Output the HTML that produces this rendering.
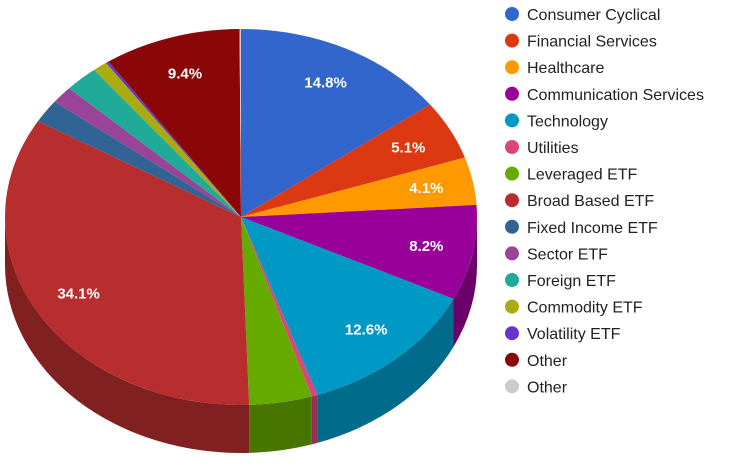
<!DOCTYPE html>
<html><head><meta charset="utf-8"><style>
body{margin:0;background:#fff;width:750px;height:467px;overflow:hidden;font-family:"Liberation Sans",Arial,sans-serif}
svg{position:absolute;left:0;top:0}
</style></head><body>
<svg id="s" width="750" height="467" xmlns="http://www.w3.org/2000/svg"></svg>
<script>
(function(){
var data=[["Consumer Cyclical",14.8,"#3366cc"],["Financial Services",5.1,"#dc3912"],["Healthcare",4.1,"#ff9900"],["Communication Services",8.2,"#990099"],["Technology",12.6,"#0099c6"],["Utilities",0.4,"#dd4477"],["Leveraged ETF",4.3,"#66aa00"],["Broad Based ETF",34.1,"#b82e2e"],["Fixed Income ETF",2.0,"#316395"],["Sector ETF",1.5,"#994499"],["Foreign ETF",2.3,"#22aa99"],["Commodity ETF",1.0,"#aaaa11"],["Volatility ETF",0.2,"#6633cc"],["Other",9.4,"#8b0707"],["Other",0.1,"#cccccc"]];
var cx=241,cy=217,rx=236,ry=188,D=48;
var tot=data.reduce(function(a,b){return a+b[1]},0);
function pt(a,dy){var r=a*Math.PI/180;return [cx+rx*Math.sin(r),cy-ry*Math.cos(r)+(dy||0)];}
function dark(c){var n=parseInt(c.slice(1),16);var r=(n>>16)*0.7|0,g=((n>>8)&255)*0.7|0,b=(n&255)*0.7|0;return "rgb("+r+","+g+","+b+")";}
var side="",tops="",lab="",a=0;
data.forEach(function(d,i){
 var a1=a,a2=a+d[1]/tot*360;a=a2;
 var s1=Math.max(a1,90),s2=Math.min(a2,270);
 if(s2>s1){var q1=pt(s1),q2=pt(s2);
  side+='<path d="M'+q1+' A'+rx+' '+ry+' 0 0 1 '+q2+' L'+pt(s2,D)+' A'+rx+' '+ry+' 0 0 0 '+pt(s1,D)+' Z" fill="'+dark(d[2])+'"/>';}
 var p1=pt(a1),p2=pt(a2),lg=(a2-a1)>180?1:0;
 tops+='<path d="M'+cx+','+cy+' L'+p1+' A'+rx+' '+ry+' 0 '+lg+' 1 '+p2+' Z" fill="'+d[2]+'"/>';
 if(d[1]>=4&&i!=6){var m=(a1+a2)/2,r=m*Math.PI/180;var k=0.8;var x=cx+rx*k*Math.sin(r),y=cy-ry*k*Math.cos(r);
  lab+='<text x="'+x+'" y="'+(y+5)+'" fill="#fff" font-size="15" font-weight="bold" text-anchor="middle">'+d[1].toFixed(1)+'%</text>';}
});
var leg="";
data.forEach(function(d,i){var y=14+i*26.6;
 leg+='<circle cx="512" cy="'+y+'" r="7" fill="'+d[2]+'"/><text x="527" y="'+(y+6)+'" font-size="16" fill="#222">'+d[0]+'</text>';});
document.getElementById("s").innerHTML=side+tops+lab+leg;
})();
</script>
</body></html>
